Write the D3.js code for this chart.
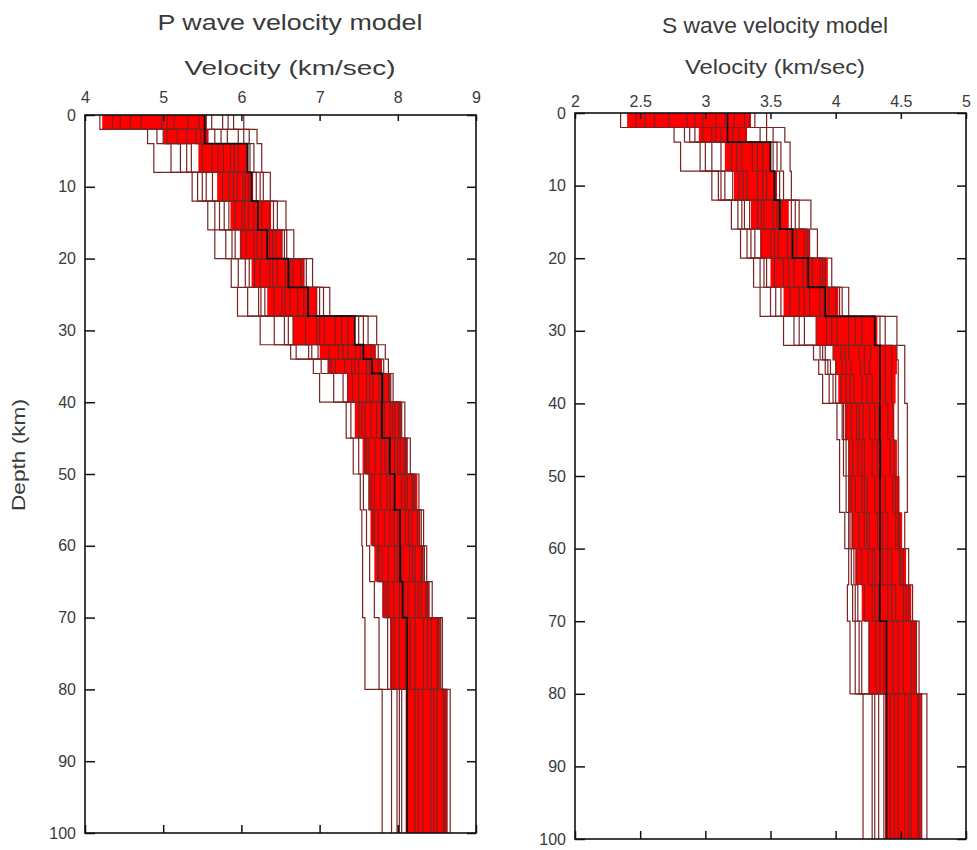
<!DOCTYPE html>
<html>
<head>
<meta charset="utf-8">
<script src="https://cdn.jsdelivr.net/npm/d3@7"></script>
<style>
  body { margin: 0; background: #fff; }
  text { font-family: "Liberation Sans", Arial, sans-serif; fill: #3a3a3a; }
</style>
</head>
<body>
<script>
// layer boundaries (km), shared by both models
let depthBounds = [0, 2, 4, 8, 12, 16, 20, 24, 28, 32, 34, 36, 40, 45, 50, 55, 60, 65, 70, 80, 100]
let depthTicks = [0, 10, 20, 30, 40, 50, 60, 70, 80, 90, 100]

// P wave: one value per layer
let pTicks = [4, 5, 6, 7, 8, 9]
let pRef = [5.53, 5.53, 6.08, 6.13, 6.21, 6.33, 6.60, 6.85, 7.45, 7.56, 7.67, 7.80, 7.80, 7.90, 7.96, 8.03, 8.03, 8.06, 8.12, 8.12]
let pBandLo = [4.22, 5.00, 5.45, 5.69, 5.86, 5.98, 6.13, 6.33, 6.66, 7.00, 7.10, 7.35, 7.45, 7.55, 7.63, 7.65, 7.70, 7.80, 7.90, 8.10]
let pBandHi = [5.55, 5.58, 6.08, 6.15, 6.38, 6.52, 6.80, 6.97, 7.45, 7.72, 7.80, 7.90, 8.05, 8.12, 8.25, 8.28, 8.33, 8.40, 8.55, 8.63]
let pModels = [
  [4.19, 4.80, 4.88, 5.37, 5.57, 5.66, 5.87, 5.95, 6.24, 6.63, 6.92, 7.00, 7.34, 7.43, 7.52, 7.54, 7.55, 7.55, 7.58, 7.80],
  [4.35, 4.92, 5.10, 5.44, 5.66, 5.80, 5.96, 6.08, 6.42, 6.70, 7.02, 7.18, 7.40, 7.50, 7.56, 7.60, 7.64, 7.70, 7.76, 7.92],
  [4.45, 5.00, 5.30, 5.50, 5.78, 5.92, 6.10, 6.25, 6.60, 6.90, 7.15, 7.36, 7.54, 7.60, 7.66, 7.70, 7.76, 7.85, 7.92, 8.02],
  [4.58, 5.05, 5.22, 5.55, 5.72, 5.88, 6.05, 6.22, 6.55, 6.86, 7.12, 7.30, 7.50, 7.58, 7.63, 7.68, 7.74, 7.82, 7.87, 7.99],
  [4.72, 5.18, 5.36, 5.63, 5.84, 6.00, 6.17, 6.30, 6.66, 6.98, 7.20, 7.42, 7.58, 7.63, 7.70, 7.75, 7.80, 7.88, 7.95, 8.05],
  [4.98, 5.30, 5.50, 5.76, 5.92, 6.06, 6.24, 6.42, 6.82, 7.12, 7.32, 7.50, 7.66, 7.71, 7.78, 7.83, 7.88, 7.95, 8.02, 8.12],
  [5.05, 5.48, 5.70, 5.90, 6.04, 6.20, 6.40, 6.56, 7.00, 7.30, 7.45, 7.64, 7.78, 7.84, 7.90, 7.95, 8.00, 8.08, 8.16, 8.26],
  [5.14, 5.42, 5.62, 5.84, 6.01, 6.16, 6.36, 6.52, 6.96, 7.24, 7.41, 7.60, 7.73, 7.79, 7.86, 7.90, 7.96, 8.02, 8.10, 8.22],
  [5.32, 5.55, 5.77, 5.95, 6.09, 6.26, 6.46, 6.62, 7.06, 7.36, 7.50, 7.68, 7.83, 7.88, 7.95, 8.00, 8.05, 8.13, 8.22, 8.32],
  [5.46, 5.66, 5.86, 6.02, 6.16, 6.36, 6.56, 6.72, 7.20, 7.46, 7.60, 7.76, 7.90, 7.96, 8.05, 8.10, 8.15, 8.22, 8.33, 8.42],
  [5.55, 5.74, 5.91, 6.05, 6.21, 6.40, 6.62, 6.80, 7.28, 7.52, 7.64, 7.79, 7.93, 8.00, 8.09, 8.14, 8.19, 8.26, 8.38, 8.46],
  [5.62, 5.82, 5.96, 6.09, 6.26, 6.44, 6.66, 6.86, 7.36, 7.56, 7.68, 7.82, 7.96, 8.03, 8.12, 8.18, 8.22, 8.30, 8.43, 8.50],
  [5.76, 5.96, 6.06, 6.19, 6.36, 6.52, 6.76, 6.96, 7.50, 7.66, 7.75, 7.88, 8.01, 8.08, 8.18, 8.25, 8.30, 8.36, 8.50, 8.58],
  [5.83, 6.03, 6.11, 6.24, 6.41, 6.55, 6.80, 7.00, 7.56, 7.70, 7.78, 7.90, 8.03, 8.10, 8.20, 8.28, 8.32, 8.38, 8.52, 8.60],
  [5.90, 6.10, 6.16, 6.28, 6.46, 6.58, 6.83, 7.05, 7.62, 7.75, 7.82, 7.91, 8.05, 8.12, 8.22, 8.30, 8.34, 8.40, 8.55, 8.63],
  [6.03, 6.20, 6.26, 6.37, 6.57, 6.67, 6.91, 7.13, 7.73, 7.84, 7.88, 7.94, 8.09, 8.16, 8.27, 8.33, 8.37, 8.44, 8.57, 8.67]
]

// S wave: one value per layer
let sTicks = [2, 2.5, 3, 3.5, 4, 4.5, 5]
let sRef = [3.17, 3.17, 3.50, 3.53, 3.57, 3.67, 3.79, 3.92, 4.30, 4.34, 4.34, 4.34, 4.34, 4.34, 4.34, 4.34, 4.34, 4.34, 4.39, 4.39]
let sBandLo = [2.40, 2.95, 3.15, 3.22, 3.35, 3.42, 3.50, 3.60, 3.85, 3.98, 4.00, 4.02, 4.07, 4.10, 4.10, 4.12, 4.15, 4.20, 4.25, 4.38]
let sBandHi = [3.35, 3.32, 3.50, 3.55, 3.64, 3.80, 3.94, 4.02, 4.32, 4.47, 4.47, 4.46, 4.45, 4.47, 4.49, 4.51, 4.54, 4.58, 4.62, 4.66]
let sModels = [
  [2.35, 2.76, 2.81, 3.05, 3.20, 3.27, 3.37, 3.42, 3.60, 3.83, 3.87, 3.90, 4.01, 4.03, 4.03, 4.07, 4.10, 4.09, 4.11, 4.21],
  [2.47, 2.84, 2.96, 3.10, 3.25, 3.32, 3.42, 3.50, 3.68, 3.88, 3.92, 3.95, 4.05, 4.06, 4.08, 4.10, 4.12, 4.13, 4.15, 4.28],
  [2.54, 2.88, 3.00, 3.12, 3.28, 3.35, 3.45, 3.54, 3.72, 3.90, 3.94, 3.98, 4.06, 4.08, 4.10, 4.11, 4.14, 4.15, 4.18, 4.30],
  [2.61, 2.92, 3.05, 3.15, 3.30, 3.38, 3.47, 3.58, 3.76, 3.92, 3.96, 4.00, 4.08, 4.10, 4.12, 4.13, 4.16, 4.17, 4.20, 4.33],
  [2.72, 2.98, 3.12, 3.21, 3.34, 3.43, 3.53, 3.65, 3.85, 3.98, 4.00, 4.04, 4.12, 4.13, 4.15, 4.18, 4.20, 4.22, 4.26, 4.37],
  [2.86, 3.05, 3.20, 3.26, 3.40, 3.50, 3.60, 3.72, 3.93, 4.04, 4.05, 4.08, 4.16, 4.17, 4.20, 4.22, 4.25, 4.28, 4.31, 4.42],
  [2.92, 3.08, 3.24, 3.29, 3.43, 3.53, 3.64, 3.76, 3.97, 4.07, 4.08, 4.11, 4.18, 4.20, 4.22, 4.24, 4.28, 4.30, 4.34, 4.45],
  [2.98, 3.12, 3.28, 3.32, 3.45, 3.56, 3.68, 3.80, 4.01, 4.10, 4.12, 4.14, 4.21, 4.22, 4.24, 4.26, 4.30, 4.33, 4.37, 4.48],
  [3.08, 3.21, 3.36, 3.40, 3.52, 3.63, 3.75, 3.88, 4.10, 4.18, 4.19, 4.20, 4.26, 4.28, 4.30, 4.32, 4.36, 4.40, 4.44, 4.53],
  [3.15, 3.26, 3.40, 3.44, 3.55, 3.66, 3.78, 3.91, 4.15, 4.22, 4.22, 4.24, 4.30, 4.32, 4.34, 4.36, 4.40, 4.43, 4.48, 4.56],
  [3.22, 3.31, 3.44, 3.47, 3.58, 3.70, 3.82, 3.95, 4.20, 4.27, 4.26, 4.28, 4.33, 4.35, 4.38, 4.40, 4.43, 4.46, 4.52, 4.58],
  [3.30, 3.42, 3.52, 3.54, 3.66, 3.76, 3.88, 4.00, 4.30, 4.38, 4.38, 4.38, 4.40, 4.42, 4.44, 4.46, 4.49, 4.52, 4.58, 4.63],
  [3.34, 3.47, 3.55, 3.57, 3.69, 3.78, 3.90, 4.03, 4.34, 4.43, 4.43, 4.43, 4.44, 4.45, 4.46, 4.48, 4.50, 4.54, 4.60, 4.64],
  [3.38, 3.52, 3.58, 3.60, 3.72, 3.80, 3.92, 4.05, 4.38, 4.47, 4.48, 4.48, 4.48, 4.48, 4.48, 4.49, 4.52, 4.56, 4.62, 4.66],
  [3.47, 3.61, 3.65, 3.66, 3.81, 3.86, 3.97, 4.10, 4.47, 4.53, 4.53, 4.53, 4.55, 4.55, 4.55, 4.53, 4.56, 4.59, 4.64, 4.70]
]

let modelStroke = '#7a2323'

let svg = d3.select('body').append('svg')
  .attr('width', 977)
  .attr('height', 850)

// each layer value becomes a vertical segment, consecutive layers join with a horizontal step
let layerPoints = vals => vals.flatMap((v, i) => [[v, depthBounds[i]], [v, depthBounds[i + 1]]])

let drawPanel = p => {
  let x = d3.scaleLinear().domain(p.xDomain).range([p.left, p.right])
  let y = d3.scaleLinear().domain([0, 100]).range([p.top, p.bottom])
  let line = d3.line().x(d => x(d[0])).y(d => y(d[1]))
  let g = svg.append('g')

  // dense part of the ensemble
  let band = p.lo.flatMap((v, i) => [
    { lo: v, hi: p.hi[i], d: depthBounds[i] },
    { lo: v, hi: p.hi[i], d: depthBounds[i + 1] }
  ])
  g.append('path')
    .attr('d', d3.area().y(d => y(d.d)).x0(d => x(d.lo)).x1(d => x(d.hi))(band))
    .attr('fill', '#ff0000')

  // individual models
  g.selectAll('path.model').data(p.models).join('path')
    .attr('class', 'model')
    .attr('d', m => line(layerPoints(m)))
    .attr('fill', 'none')
    .attr('stroke', modelStroke)
    .attr('stroke-width', 1.2)

  // reference model
  g.append('path')
    .attr('d', line(layerPoints(p.ref)))
    .attr('fill', 'none')
    .attr('stroke', '#111')
    .attr('stroke-width', 1.8)

  // axes, ticks pointing inward
  let fmt = d => String(d)
  let top = g.append('g').attr('transform', `translate(0,${p.top})`)
    .call(d3.axisTop(x).tickValues(p.xTicks).tickFormat(fmt).tickSizeInner(-6).tickSizeOuter(0).tickPadding(p.topPad))
  let bottom = g.append('g').attr('transform', `translate(0,${p.bottom})`)
    .call(d3.axisBottom(x).tickValues(p.xTicks).tickFormat('').tickSizeInner(-8).tickSizeOuter(0))
  let left = g.append('g').attr('transform', `translate(${p.left},0)`)
    .call(d3.axisLeft(y).tickValues(depthTicks).tickFormat(fmt).tickSizeInner(-10).tickSizeOuter(0).tickPadding(9))
  let right = g.append('g').attr('transform', `translate(${p.right},0)`)
    .call(d3.axisRight(y).tickValues(depthTicks).tickFormat('').tickSizeInner(-9).tickSizeOuter(0))

  ;[top, bottom, left, right].forEach(a => {
    a.select('.domain').remove()
    a.selectAll('line').attr('stroke', '#111').attr('stroke-width', 1.5)
    a.selectAll('text').attr('font-size', 16).attr('fill', '#333')
      .attr('font-family', '"Liberation Sans", Arial, sans-serif')
  })

  g.append('rect')
    .attr('x', p.left).attr('y', p.top)
    .attr('width', p.right - p.left).attr('height', p.bottom - p.top)
    .attr('fill', 'none')
    .attr('stroke', '#111')
    .attr('stroke-width', 1.6)

  g.append('text')
    .attr('x', p.titleX).attr('y', p.titleY)
    .attr('text-anchor', 'middle')
    .attr('font-size', 22)
    .attr('textLength', p.titleLen).attr('lengthAdjust', 'spacingAndGlyphs')
    .text(p.title)

  g.append('text')
    .attr('x', p.titleX).attr('y', p.labelY)
    .attr('text-anchor', 'middle')
    .attr('font-size', 21)
    .attr('textLength', p.labelLen).attr('lengthAdjust', 'spacingAndGlyphs')
    .text('Velocity (km/sec)')
}

drawPanel({
  title: 'P wave velocity model', titleX: 290, titleY: 30, titleLen: 265, labelY: 75, labelLen: 211,
  xDomain: [4, 9], xTicks: pTicks, left: 85, right: 476, top: 115, bottom: 833, topPad: 12,
  ref: pRef, lo: pBandLo, hi: pBandHi, models: pModels
})

drawPanel({
  title: 'S wave velocity model', titleX: 775, titleY: 33, titleLen: 226, labelY: 74, labelLen: 180,
  xDomain: [2, 5], xTicks: sTicks, left: 575, right: 966, top: 113, bottom: 839, topPad: 6,
  ref: sRef, lo: sBandLo, hi: sBandHi, models: sModels
})

svg.append('text')
  .attr('transform', 'translate(25,455) rotate(-90)')
  .attr('text-anchor', 'middle')
  .attr('font-size', 19)
  .attr('textLength', 112).attr('lengthAdjust', 'spacingAndGlyphs')
  .text('Depth (km)')
</script>
</body>
</html>
